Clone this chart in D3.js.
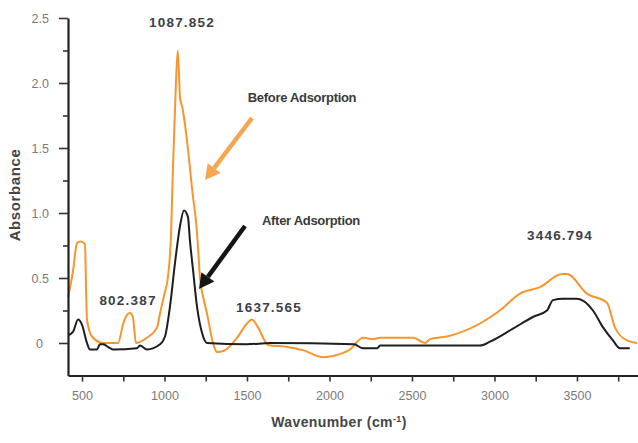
<!DOCTYPE html>
<html>
<head>
<meta charset="utf-8">
<script src="https://cdn.jsdelivr.net/npm/d3@7"></script>
<style>
  body { margin: 0; background: #fff; }
  svg { display: block; font-family: "Liberation Sans", Arial, sans-serif; }
</style>
</head>
<body>
<svg id="chart" width="638" height="443"></svg>
<script>
// FTIR spectra: [wavenumber, absorbance]
const before = [
  [415, 0.35], [445, 0.55], [470, 0.77], [490, 0.78], [518, 0.76], [524, 0.45], [530, 0.18],
  [560, 0.05], [627, 0.0], [718, 0.0], [750, 0.15], [775, 0.22], [790, 0.23], [808, 0.2],
  [827, 0.0], [893, 0.04], [955, 0.12], [973, 0.23], [1000, 0.38], [1020, 0.5], [1040, 0.85],
  [1050, 1.3], [1065, 1.85], [1080, 2.25], [1094, 1.89], [1110, 1.8], [1136, 1.56],
  [1173, 1.12], [1190, 0.95], [1205, 0.7], [1215, 0.5], [1235, 0.35], [1257, 0.23],
  [1294, 0.0], [1318, -0.07], [1360, -0.06], [1440, 0.04], [1500, 0.15], [1530, 0.18],
  [1567, 0.12], [1627, -0.015], [1742, -0.03], [1840, -0.055], [1960, -0.11], [2020, -0.1],
  [2124, -0.05], [2203, 0.04], [2264, 0.03], [2306, 0.04], [2506, 0.04], [2580, 0.0],
  [2610, 0.03], [2712, 0.05], [2912, 0.15], [3033, 0.25], [3154, 0.38], [3276, 0.43],
  [3409, 0.53], [3440, 0.53], [3560, 0.38], [3682, 0.31], [3730, 0.12], [3803, 0.02], [3865, 0.0]
]

const after = [
  [415, 0.06], [445, 0.085], [476, 0.18], [500, 0.14], [530, 0.0], [548, -0.05], [590, -0.05],
  [609, -0.01], [627, -0.01], [670, -0.04], [688, -0.05], [833, -0.04], [851, -0.02],
  [894, -0.05], [973, -0.01], [1003, 0.05], [1033, 0.28], [1064, 0.62], [1094, 0.9],
  [1118, 1.02], [1142, 0.97], [1154, 0.79], [1173, 0.56], [1197, 0.28], [1227, 0.08],
  [1257, 0.0], [1500, -0.01], [1640, 0.0], [2150, -0.01], [2200, -0.04], [2290, -0.04],
  [2306, -0.02], [2912, -0.02], [2973, 0.01], [3112, 0.11], [3233, 0.2], [3318, 0.25],
  [3355, 0.33], [3415, 0.34], [3500, 0.34], [3597, 0.25], [3658, 0.12], [3718, 0.02],
  [3760, -0.04], [3820, -0.04]
]

const yTicks = [0, 0.5, 1.0, 1.5, 2.0, 2.5]
const yMinor = [0.25, 0.75, 1.25, 1.75, 2.25]
const xTicks = [500, 1000, 1500, 2000, 2500, 3000, 3500]
const xMinor = [750, 1250, 1750, 2250, 2750, 3250, 3750]
const peakLabels = ['1087.852', '802.387', '1637.565', '3446.794']
const seriesNames = ['Before Adsorption', 'After Adsorption']

const svg = d3.select('#chart')

const x = d3.scaleLinear().domain([415, 3870]).range([68, 638])
const y = d3.scaleLinear().domain([-0.25, 2.5]).range([375.5, 18])

// curves
const line = d3.line().x(d => x(d[0])).y(d => y(d[1])).curve(d3.curveMonotoneX)

svg.append('path')
  .attr('d', line(before))
  .attr('fill', 'none')
  .attr('stroke', '#f7952e')
  .attr('stroke-width', 2)
  .attr('stroke-linejoin', 'round')

svg.append('path')
  .attr('d', line(after))
  .attr('fill', 'none')
  .attr('stroke', '#1e1e1e')
  .attr('stroke-width', 2)
  .attr('stroke-linejoin', 'round')

// axes
const yAxis = svg.append('g')
  .attr('transform', 'translate(68,0)')
  .call(d3.axisLeft(y).tickValues(yTicks).tickSize(9).tickSizeOuter(0)
    .tickFormat(d => d === 0 ? '0' : d3.format('.1f')(d)))

svg.append('g')
  .attr('transform', 'translate(68,0)')
  .call(d3.axisLeft(y).tickValues(yMinor).tickSize(5).tickSizeOuter(0).tickFormat(''))
  .select('.domain').remove()

const xAxis = svg.append('g')
  .attr('transform', 'translate(0,375.5)')
  .call(d3.axisBottom(x).tickValues(xTicks).tickSize(6).tickSizeOuter(0).tickFormat(d3.format('d')))

svg.append('g')
  .attr('transform', 'translate(0,375.5)')
  .call(d3.axisBottom(x).tickValues(xMinor).tickSize(6).tickSizeOuter(0).tickFormat(''))
  .select('.domain').remove()

svg.selectAll('.domain')
  .attr('stroke', '#222')
  .attr('stroke-width', 2.2)
svg.selectAll('.tick line')
  .attr('stroke', '#333')
  .attr('stroke-width', 1.6)
svg.selectAll('.tick text')
  .attr('fill', '#7a7a7a')
  .attr('font-size', 12.5)
  .attr('font-family', '"Liberation Sans", Arial, sans-serif')
yAxis.selectAll('.tick text').attr('x', -19)
yAxis.selectAll('.tick')
  .filter(d => d === 0)
  .select('text').attr('x', -25)
xAxis.selectAll('.tick text').attr('y', 16)

// axis titles
svg.append('text')
  .attr('transform', 'translate(20,195) rotate(-90)')
  .attr('text-anchor', 'middle')
  .attr('font-size', 15)
  .attr('font-weight', 'bold')
  .attr('letter-spacing', 0.6)
  .attr('fill', '#454545')
  .text('Absorbance')

const xt = svg.append('text')
  .attr('x', 339)
  .attr('y', 427)
  .attr('text-anchor', 'middle')
  .attr('font-size', 14)
  .attr('font-weight', 'bold')
  .attr('letter-spacing', 0.4)
  .attr('fill', '#454545')
xt.append('tspan').text('Wavenumber (cm')
xt.append('tspan').attr('dy', -5).attr('font-size', 9).text('-1')
xt.append('tspan').attr('dy', 5).text(')')

// peak labels
const labelPos = [[182, 27], [128, 305], [269, 312], [560, 240]]
svg.selectAll('text.peak')
  .data(peakLabels)
  .join('text')
  .attr('class', 'peak')
  .attr('x', (d, i) => labelPos[i][0])
  .attr('y', (d, i) => labelPos[i][1])
  .attr('text-anchor', 'middle')
  .attr('font-size', 13.5)
  .attr('font-weight', 'bold')
  .attr('letter-spacing', 1.2)
  .attr('fill', '#3c3f47')
  .text(d => d)

// series labels
const namePos = [[302, 102], [311, 225]]
svg.selectAll('text.name')
  .data(seriesNames)
  .join('text')
  .attr('class', 'name')
  .attr('x', (d, i) => namePos[i][0])
  .attr('y', (d, i) => namePos[i][1])
  .attr('text-anchor', 'middle')
  .attr('font-size', 13)
  .attr('font-weight', 'bold')
  .attr('letter-spacing', -0.3)
  .attr('fill', '#3a3a3a')
  .text(d => d)

// arrows
function arrow (x1, y1, x2, y2, color, w, headLen, headW) {
  const ang = Math.atan2(y2 - y1, x2 - x1)
  const bx = x2 - headLen * Math.cos(ang)
  const by = y2 - headLen * Math.sin(ang)
  const nx = -Math.sin(ang), ny = Math.cos(ang)
  svg.append('line')
    .attr('x1', x1).attr('y1', y1).attr('x2', bx).attr('y2', by)
    .attr('stroke', color).attr('stroke-width', w)
  svg.append('path')
    .attr('d', `M${x2},${y2}L${bx + nx * headW},${by + ny * headW}L${bx - nx * headW},${by - ny * headW}Z`)
    .attr('fill', color)
}
arrow(252, 118, 205, 180, '#f7a54e', 4.5, 15, 8)
arrow(245, 226, 199, 289, '#151515', 4.5, 15, 8)
</script>
</body>
</html>
